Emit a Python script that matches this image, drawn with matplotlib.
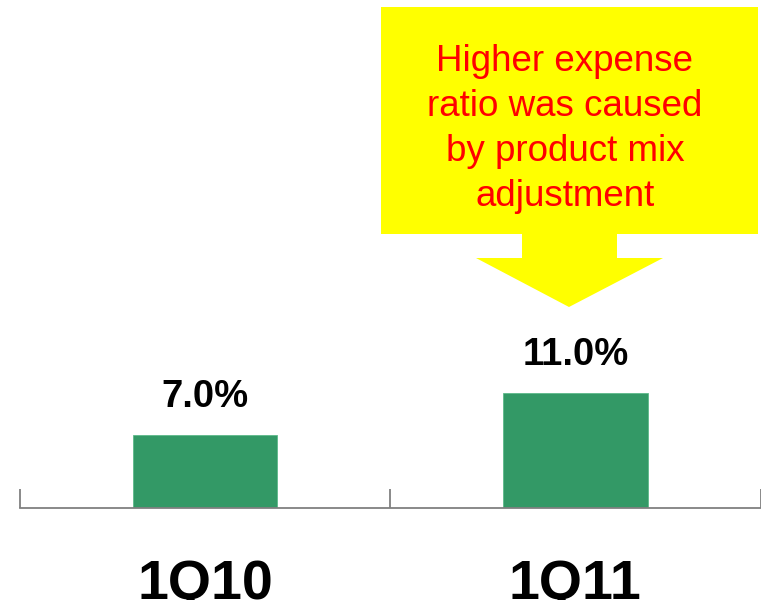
import matplotlib
matplotlib.use("Agg")
import matplotlib.pyplot as plt
from matplotlib.patches import Polygon

plt.rcParams["font.family"] = ["Liberation Sans", "DejaVu Sans"]

# Expense ratio by quarter
quarters = ["1Q10", "1Q11"]
expense_ratio = [7.0, 11.0]
value_labels = ["7.0%", "11.0%"]
callout_text = "Higher expense\nratio was caused\nby product mix\nadjustment"

W, H = 761, 600
fig = plt.figure(figsize=(W / 100, H / 100), dpi=100)
fig.patch.set_facecolor("white")

ax = fig.add_axes([20 / W, 92 / H, 740.5 / W, 508 / H])
ax.set_facecolor("none")

positions = list(range(len(quarters)))
ax.bar(positions, expense_ratio, width=0.39, color="#339966",
       edgecolor="#5dba8a", linewidth=0.6, zorder=2)

ax.set_xlim(-0.5, len(quarters) - 0.5)
ax.set_ylim(0, 48.4)

for side in ("top", "right", "left"):
    ax.spines[side].set_visible(False)
ax.spines["bottom"].set_color("#808080")
ax.spines["bottom"].set_linewidth(1.3)

ax.set_yticks([])
ax.set_xticks([p - 0.5 for p in positions] + [positions[-1] + 0.5])
ax.set_xticklabels([])
ax.tick_params(axis="x", direction="in", length=13.5, width=1.3,
               color="#808080")

# value labels above bars
for p, v, lab in zip(positions, expense_ratio, value_labels):
    ax.annotate(lab, xy=(p, v), xytext=(0, 20), textcoords="offset points",
                ha="center", va="baseline", fontsize=27.5,
                fontweight="bold", color="black")

# category labels below the axis
for p, q in zip(positions, quarters):
    ax.text(p, -91 / 508, q, transform=ax.get_xaxis_transform(),
            ha="center", va="baseline", fontsize=40, fontweight="bold",
            color="black", clip_on=False)

# callout box with downward arrow
outline_px = [(381, 7), (758, 7), (758, 234), (617, 234), (617, 258),
              (663, 258), (569, 307), (476, 258), (522, 258), (522, 234),
              (381, 234)]
callout = Polygon([(x / W, 1 - y / H) for x, y in outline_px], closed=True,
                  transform=fig.transFigure, facecolor="#FFFF00",
                  edgecolor="none", zorder=5)
fig.patches.append(callout)

fig.text(565 / W, 1 - 44 / H, callout_text, ha="center", va="top",
         fontsize=26.5, color="#FF0000", linespacing=1.37, zorder=6,
         multialignment="center")

fig.savefig("out.png", dpi=100, facecolor="white")
